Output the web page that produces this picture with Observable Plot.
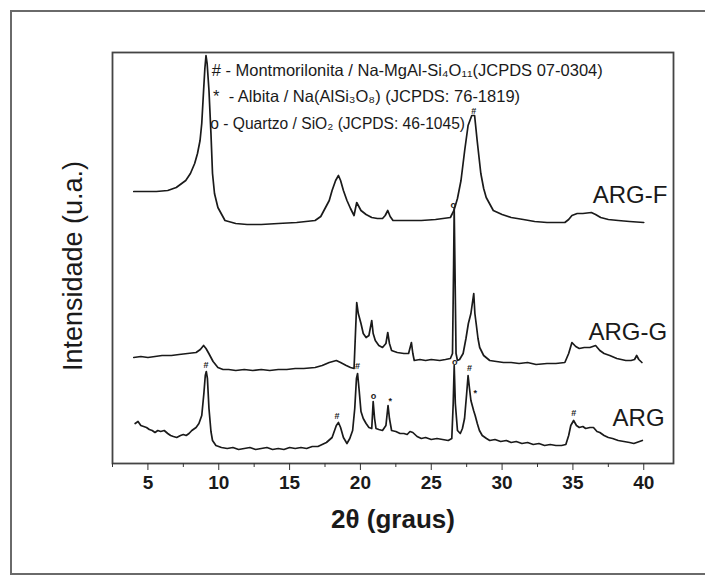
<!DOCTYPE html>
<html>
<head>
<meta charset="utf-8">
<script src="https://cdn.jsdelivr.net/npm/d3@7"></script>
<script src="https://cdn.jsdelivr.net/npm/@observablehq/plot@0.6"></script>
<style>
  html, body { margin: 0; padding: 0; background: #fff; }
  #wrap { position: relative; width: 705px; height: 578px; overflow: hidden; }
  #outer { position: absolute; left: 10px; top: 10px; width: 720px; height: 565px;
           border: 2px solid #6a6a6a; box-sizing: border-box; }
  #chart { position: absolute; left: 0; top: 0; }
</style>
</head>
<body>
<div id="wrap"><div id="outer"></div><div id="chart"></div></div>
<script>
// 2θ (degrees) and intensity (a.u.) for each pattern
const argF = [[4,272],[4.8,272],[5.6,272],[6.4,273],[7,276],[7.67,283],[8.0,290],[8.3,300],[8.5,310],[8.68,323],[8.8,340],[8.93,373],[9.02,395],[9.1,408],[9.18,400],[9.31,373],[9.45,330],[9.56,290],[9.7,270],[9.94,256],[10.44,243],[11.2,240],[12,239],[13,239],[14.2,240],[15.5,241],[16.8,243],[17.2,247],[17.5,255],[17.8,263],[18.0,273],[18.25,283],[18.45,288],[18.6,283],[18.8,273],[19.05,263],[19.3,255],[19.55,248],[19.65,255],[19.74,261],[19.85,258],[20.04,253],[20.4,249],[20.8,246],[21.2,245],[21.56,245],[21.75,248],[21.93,253],[22.1,247],[22.3,243],[23,243],[24.3,243],[25.3,244],[26.35,246],[26.6,253],[26.85,265],[27.1,283],[27.36,313],[27.6,338],[27.86,348],[28.06,348],[28.24,323],[28.5,290],[28.7,275],[28.88,266],[29.38,253],[30,249],[30.64,246],[31.5,244],[32.3,242],[33.17,241],[34.43,241],[34.7,244],[34.93,248],[35.3,250],[35.7,250],[36.3,251],[36.6,249],[36.96,246],[37.5,244],[38.2,243],[39,242],[40,241]];

const argG = [[4,106],[4.5,107],[5,106],[5.5,107],[6,108],[6.66,108],[7.2,109],[7.8,110],[8.4,111],[8.7,114],[8.93,118],[9.1,115],[9.3,110],[9.6,102],[9.94,96],[10.3,94],[10.7,94],[11.2,93],[11.8,94],[12.4,93],[13,94],[13.6,93],[14.2,94],[14.8,94],[15.4,95],[16,95],[16.8,96],[17.3,98],[17.8,101],[18.3,103],[18.6,101],[19,98],[19.3,96],[19.55,95],[19.65,130],[19.74,161],[19.85,150],[20.04,140],[20.2,130],[20.4,126],[20.6,128],[20.8,143],[20.9,130],[21.05,123],[21.3,118],[21.56,116],[21.8,120],[21.93,131],[22.05,120],[22.2,113],[22.6,111],[23.07,110],[23.4,110],[23.6,121],[23.7,110],[23.8,103],[24.2,104],[24.6,103],[25,104],[25.6,103],[26,104],[26.35,105],[26.5,110],[26.58,200],[26.62,255],[26.67,200],[26.75,110],[26.85,103],[27.0,104],[27.25,110],[27.45,125],[27.62,140],[27.8,150],[28.0,170],[28.08,150],[28.17,140],[28.3,125],[28.42,116],[28.7,108],[29.13,103],[29.6,102],[30.1,101],[30.64,101],[31.2,100],[31.8,101],[32.4,99],[33.17,100],[33.8,100],[34.43,101],[34.7,110],[34.93,121],[35.2,117],[35.45,115],[35.8,116],[36.2,116],[36.6,118],[36.9,113],[37.2,110],[37.6,108],[38.1,105],[38.73,103],[39.1,103],[39.35,104],[39.5,108],[39.65,104],[39.87,101]];

const arg = [[4.1,40],[4.3,42],[4.5,38],[4.7,37],[4.9,36],[5.1,34],[5.3,33],[5.5,31],[5.7,33],[5.9,32],[6.15,33],[6.4,30],[6.6,28],[6.8,27],[7.03,26],[7.3,28],[7.5,29],[7.7,28],[7.9,30],[8.1,33],[8.4,36],[8.6,40],[8.8,48],[8.95,70],[9.05,88],[9.12,92],[9.2,85],[9.31,55],[9.45,32],[9.56,23],[9.8,18],[10.19,16],[10.6,15],[11,16],[11.4,14],[11.8,15],[12.2,16],[12.6,14],[13,15],[13.4,16],[13.8,14],[14.2,15],[14.6,14],[15,16],[15.4,15],[15.8,16],[16.2,15],[16.6,17],[17,17],[17.3,19],[17.6,21],[18,26],[18.3,38],[18.45,41],[18.6,36],[18.8,26],[19.05,20],[19.25,25],[19.45,33],[19.6,55],[19.72,85],[19.8,90],[19.9,75],[20.04,52],[20.2,45],[20.4,40],[20.6,36],[20.8,35],[20.9,62],[21.0,45],[21.1,35],[21.3,34],[21.56,33],[21.8,38],[21.95,58],[22.05,45],[22.2,33],[22.5,32],[22.8,30],[23.07,30],[23.3,29],[23.5,32],[23.7,31],[24,27],[24.3,25],[24.6,26],[25,24],[25.4,25],[25.8,24],[26.2,23],[26.45,25],[26.55,60],[26.62,98],[26.7,60],[26.85,33],[27.05,30],[27.2,35],[27.35,45],[27.5,70],[27.6,88],[27.7,75],[27.8,63],[27.99,53],[28.1,48],[28.25,40],[28.4,33],[28.6,28],[28.9,25],[29.13,23],[29.5,24],[29.9,22],[30.3,23],[30.64,21],[31,22],[31.4,20],[31.8,21],[32.2,19],[32.6,20],[33,18],[33.4,19],[33.8,18],[34.2,18],[34.5,19],[34.7,28],[34.85,38],[35.05,43],[35.25,38],[35.45,36],[35.7,37],[35.9,35],[36.2,36],[36.45,36],[36.7,32],[36.9,31],[37.2,28],[37.5,26],[37.8,25],[38.2,23],[38.6,22],[39,21],[39.3,20],[39.5,21],[39.7,22],[39.9,23]];

// series labels: [name, 2θ where label starts, intensity]
const seriesLabels = [["ARG-F", 36.4, 268], ["ARG-G", 36.1, 131], ["ARG", 37.8, 45]];

// phase markers: [symbol, 2θ, intensity]
const phaseMarks = [
  ["#", 9.1, 98], ["#", 18.35, 47], ["#", 19.8, 97], ["o", 20.92, 67], ["*", 22.1, 62],
  ["o", 26.65, 101], ["#", 27.7, 95], ["*", 28.1, 70], ["#", 35.05, 50],
  ["#", 28.0, 352], ["o", 26.55, 258]
];

// legend lines: [text, 2θ start, intensity]
const legendLines = [
  ["# - Montmorilonita / Na-MgAl-Si\u2084O\u2081\u2081(JCPDS 07-0304)", 9.5, 393],
  ["*  - Albita / Na(AlSi\u2083O\u2088) (JCPDS: 76-1819)", 9.6, 367],
  ["o - Quartzo / SiO\u2082 (JCPDS: 46-1045)", 9.4, 340]
];

const majorTicks = [5, 10, 15, 20, 25, 30, 35, 40];
const minorTicks = [2.5, 7.5, 12.5, 17.5, 22.5, 27.5, 32.5, 37.5];
const xTitle = "2\u03b8 (graus)";
const yTitle = "Intensidade (u.a.)";

const toRows = (arr, name) => arr.map(([x, y]) => ({x, y, name}));
const rows = [...toRows(argF, "ARG-F"), ...toRows(argG, "ARG-G"), ...toRows(arg, "ARG")];

const font = "'Liberation Sans', Arial, Helvetica, sans-serif";
const ink = "#1a1a1a";

const chart = Plot.plot({
  width: 705,
  height: 578,
  marginLeft: 112,
  marginRight: 32,
  marginTop: 52,
  marginBottom: 115,
  style: {fontFamily: font, background: "transparent", color: ink},
  x: {domain: [2.5, 42.1]},
  y: {domain: [0, 411], axis: null},
  marks: [
    Plot.frame({stroke: "#444", strokeWidth: 1.8}),
    Plot.axisX({ticks: minorTicks, tickSize: 4, tickFormat: () => "", label: null, stroke: "#333"}),
    Plot.axisX({ticks: majorTicks, tickSize: 7, tickPadding: 5, fontSize: 19, fontWeight: "bold",
                tickFormat: d => String(d), label: null, stroke: "#333", fill: ink}),
    Plot.line(rows, {x: "x", y: "y", z: "name", stroke: ink, strokeWidth: 1.7, curve: "linear"}),
    Plot.text(phaseMarks, {x: d => d[1], y: d => d[2], text: d => d[0], fontSize: 9, fontWeight: "bold", fill: ink}),
    Plot.text(seriesLabels, {x: d => d[1], y: d => d[2], text: d => d[0], textAnchor: "start",
                             fontSize: 24, fill: ink}),
    Plot.text(legendLines.slice(0, 2), {x: d => d[1], y: d => d[2], text: d => d[0], textAnchor: "start",
                            fontSize: 16.5, fill: ink}),
    Plot.text(legendLines.slice(2), {x: d => d[1], y: d => d[2], text: d => d[0], textAnchor: "start",
                            fontSize: 15.6, fill: ink}),
    Plot.text([xTitle], {frameAnchor: "bottom", dy: 64, fontSize: 26, fontWeight: "bold", fill: ink}),
    Plot.text([yTitle], {frameAnchor: "left", textAnchor: "middle", rotate: -90, dx: -39, dy: 8,
                         fontSize: 27, fill: ink})
  ]
});
document.getElementById("chart").appendChild(chart);
</script>
</body>
</html>
